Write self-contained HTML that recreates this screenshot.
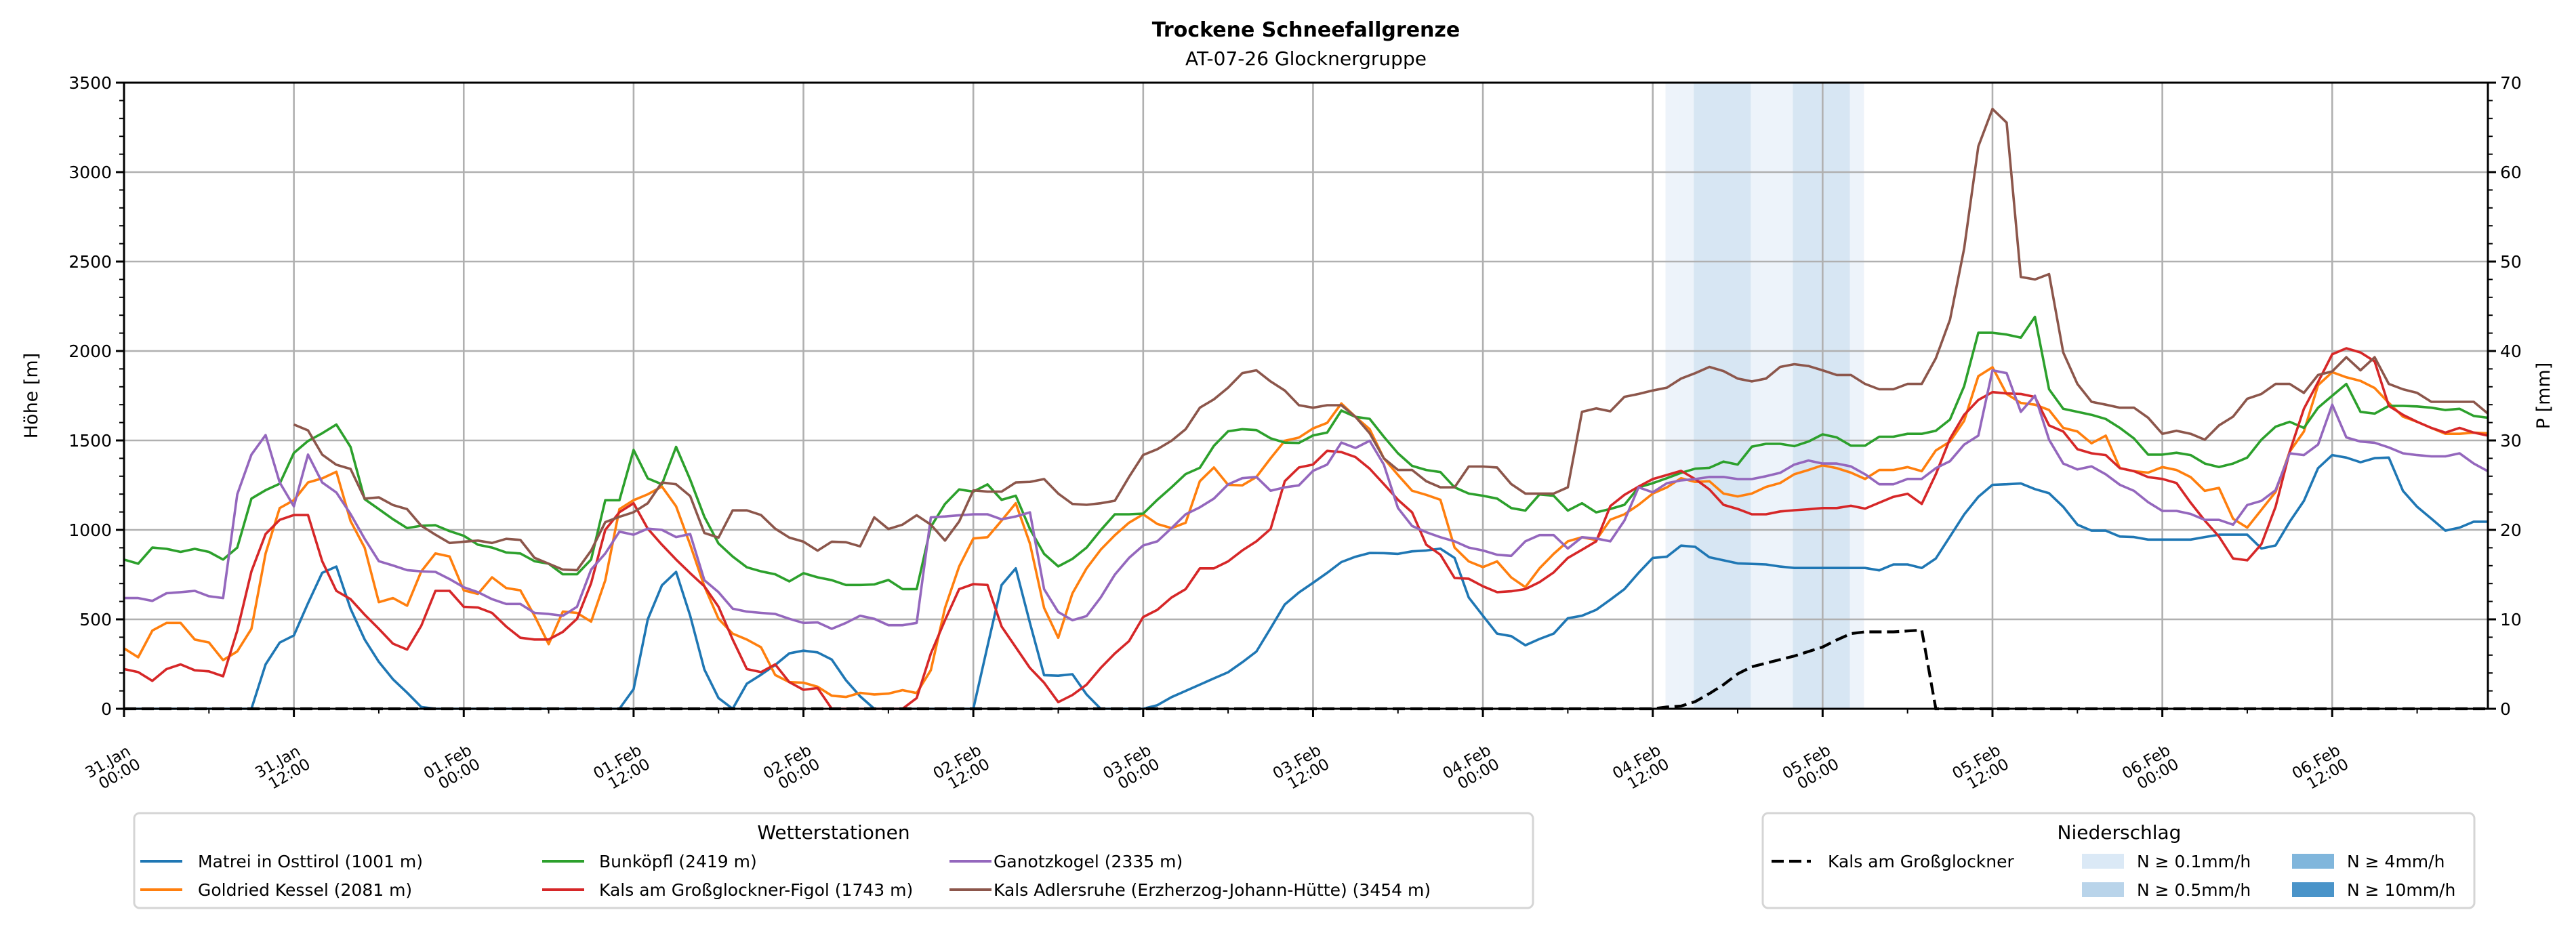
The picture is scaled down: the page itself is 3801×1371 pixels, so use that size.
<!DOCTYPE html>
<html>
<head>
<meta charset="utf-8">
<style>
html,body{margin:0;padding:0;background:#fff;}
svg{display:block;font-family:"DejaVu Sans","Liberation Sans",sans-serif;}
</style>
</head>
<body>
<svg id="chart" width="3801" height="1371" viewBox="0 0 3801 1371" xmlns="http://www.w3.org/2000/svg">
<text x="1927" y="54" text-anchor="middle" font-size="30" font-weight="bold">Trockene Schneefallgrenze</text>
<text x="1927" y="96" text-anchor="middle" font-size="28">AT-07-26 Glocknergruppe</text>
<g id="plot"></g>
</svg>
<script>
const tickLabels = ["31.Jan\n00:00","31.Jan\n12:00","01.Feb\n00:00","01.Feb\n12:00","02.Feb\n00:00","02.Feb\n12:00","03.Feb\n00:00","03.Feb\n12:00","04.Feb\n00:00","04.Feb\n12:00","05.Feb\n00:00","05.Feb\n12:00","06.Feb\n00:00","06.Feb\n12:00"];
const tickHours = [0,12,24,36,48,60,72,84,96,108,120,132,144,156];
const yTicks = [0,500,1000,1500,2000,2500,3000,3500];
const pTicks = [0,10,20,30,40,50,60,70];
const stationNames = ["Matrei in Osttirol (1001 m)","Goldried Kessel (2081 m)","Bunköpfl (2419 m)","Kals am Großglockner-Figol (1743 m)","Ganotzkogel (2335 m)","Kals Adlersruhe (Erzherzog-Johann-Hütte) (3454 m)"];
const matrei = [0,0,0,0,0,0,0,0,0,0,248,370,410,590,760,795,560,387,262,165,90,10,0,0,0,0,0,0,0,0,0,0,0,0,0,0,110,500,690,765,520,220,60,0,140,190,245,310,325,315,275,160,70,0,0,0,0,0,0,0,0,350,692,785,480,188,185,193,80,0,0,0,0,20,65,100,135,170,204,260,320,450,583,650,704,760,820,850,871,870,866,880,885,895,843,622,520,420,406,355,390,420,506,520,553,610,669,760,843,850,912,905,847,830,813,810,807,795,787,787,787,787,787,787,774,807,807,787,840,963,1086,1185,1252,1255,1260,1228,1205,1129,1029,996,996,963,960,946,946,946,946,960,973,973,973,896,913,1046,1162,1345,1418,1404,1378,1401,1404,1218,1129,1063,996,1013,1046,1046];
const goldried = [338,288,437,480,480,387,371,272,321,447,868,1122,1166,1265,1288,1325,1050,900,596,619,576,768,868,851,662,642,735,675,662,520,361,543,536,487,718,1116,1166,1199,1242,1132,917,685,503,420,387,344,189,149,146,123,73,66,89,80,85,104,88,216,564,796,952,959,1052,1149,924,564,397,645,785,889,970,1040,1087,1033,1010,1040,1272,1349,1252,1249,1296,1400,1498,1516,1567,1598,1707,1632,1563,1400,1307,1219,1196,1168,901,824,792,824,734,680,785,866,936,959,943,1057,1087,1140,1203,1238,1289,1268,1272,1203,1187,1203,1240,1262,1311,1335,1361,1345,1320,1285,1335,1335,1351,1328,1444,1494,1610,1859,1909,1760,1710,1700,1670,1570,1550,1484,1527,1345,1328,1320,1351,1335,1295,1218,1235,1062,1013,1112,1212,1438,1550,1809,1882,1853,1833,1793,1710,1633,1604,1570,1537,1537,1544,1540];
const bunkoepfl = [834,811,901,894,877,894,877,834,901,1175,1222,1258,1430,1497,1540,1589,1464,1172,1116,1060,1010,1023,1026,993,967,917,901,874,868,825,811,752,752,834,1166,1166,1447,1288,1255,1464,1281,1073,924,851,791,768,752,712,758,735,719,692,692,695,720,669,669,1017,1145,1226,1214,1254,1168,1191,1005,866,796,838,901,998,1087,1087,1091,1168,1238,1312,1347,1470,1551,1563,1558,1512,1488,1486,1528,1544,1667,1632,1621,1521,1428,1358,1335,1323,1238,1203,1191,1175,1122,1108,1198,1191,1108,1149,1098,1117,1140,1238,1261,1289,1319,1342,1347,1382,1365,1465,1481,1481,1468,1494,1534,1517,1471,1471,1521,1521,1537,1537,1554,1617,1803,2102,2102,2092,2075,2191,1786,1677,1660,1643,1620,1570,1511,1421,1421,1431,1418,1371,1351,1371,1404,1504,1577,1604,1570,1683,1750,1816,1660,1650,1693,1693,1690,1683,1670,1677,1637,1627];
const figol = [222,205,156,222,248,215,209,182,437,768,977,1056,1083,1083,825,659,613,526,447,364,331,464,659,659,570,566,536,460,397,387,387,430,503,702,1000,1099,1149,1007,917,834,758,685,570,387,222,205,248,149,106,116,0,0,0,0,0,0,60,309,495,669,697,692,460,344,228,146,37,77,135,228,309,378,513,553,622,669,785,785,824,885,936,1005,1272,1349,1365,1442,1435,1407,1342,1256,1168,1098,917,861,731,727,685,652,657,669,708,762,843,889,936,1133,1196,1242,1284,1307,1330,1284,1226,1140,1117,1087,1087,1103,1110,1115,1122,1122,1135,1119,1152,1185,1202,1145,1311,1510,1643,1726,1770,1763,1760,1743,1584,1550,1451,1428,1418,1345,1328,1295,1285,1262,1152,1052,963,840,830,920,1129,1438,1677,1826,1982,2015,1992,1942,1693,1643,1604,1570,1544,1570,1544,1527];
const ganotzkogel = [619,619,603,646,652,659,629,619,1199,1421,1530,1265,1132,1421,1265,1209,1089,950,825,801,775,768,765,725,679,652,613,586,586,536,530,520,570,778,868,990,973,1007,1000,960,977,719,652,560,543,536,530,503,480,483,447,480,520,503,467,467,480,1070,1075,1082,1087,1087,1059,1075,1098,669,541,495,518,622,750,843,913,936,1010,1087,1126,1175,1254,1289,1296,1219,1238,1249,1330,1365,1488,1458,1498,1365,1122,1022,987,959,936,901,885,861,855,936,971,971,896,959,952,936,1052,1238,1210,1261,1277,1284,1296,1296,1284,1284,1300,1319,1365,1388,1371,1371,1355,1311,1255,1255,1285,1285,1345,1384,1477,1527,1892,1876,1660,1750,1504,1371,1338,1355,1311,1252,1218,1155,1106,1106,1089,1056,1056,1029,1139,1162,1222,1428,1418,1477,1700,1517,1494,1487,1461,1428,1418,1411,1411,1428,1371,1328];
const adlersruhe = [null,null,null,null,null,null,null,null,null,null,null,null,1589,1556,1421,1364,1341,1175,1182,1139,1116,1023,973,927,934,940,927,950,944,844,811,778,775,884,1043,1073,1099,1149,1265,1255,1189,983,957,1109,1109,1083,1007,957,934,884,934,931,908,1070,1005,1029,1082,1029,940,1047,1221,1214,1214,1265,1268,1284,1203,1145,1140,1149,1163,1296,1419,1451,1498,1563,1683,1730,1795,1876,1892,1830,1779,1697,1683,1697,1697,1632,1540,1400,1335,1335,1272,1238,1238,1354,1354,1349,1256,1203,1203,1203,1238,1660,1679,1663,1744,1760,1779,1795,1846,1876,1911,1888,1846,1830,1846,1911,1926,1916,1892,1866,1866,1816,1786,1786,1816,1816,1959,2175,2573,3144,3353,3277,2414,2400,2430,1992,1816,1716,1700,1683,1683,1627,1537,1554,1537,1504,1584,1633,1733,1760,1816,1816,1766,1866,1886,1965,1892,1965,1816,1786,1766,1716,1716,1716,1716,1650];
const precipKals = [0,0,0,0,0,0,0,0,0,0,0,0,0,0,0,0,0,0,0,0,0,0,0,0,0,0,0,0,0,0,0,0,0,0,0,0,0,0,0,0,0,0,0,0,0,0,0,0,0,0,0,0,0,0,0,0,0,0,0,0,0,0,0,0,0,0,0,0,0,0,0,0,0,0,0,0,0,0,0,0,0,0,0,0,0,0,0,0,0,0,0,0,0,0,0,0,0,0,0,0,0,0,0,0,0,0,0,0,0,0.2,0.3,0.8,1.7,2.7,3.9,4.7,5.1,5.5,5.9,6.4,6.9,7.7,8.4,8.6,8.6,8.6,8.7,8.8,0,0,0,0,0,0,0,0,0,0,0,0,0,0,0,0,0,0,0,0,0,0,0,0,0,0,0,0,0,0,0,0,0,0,0,0,0,0,0,0];
const rainHours = [109,110,111,112,113,114,115,116,117,118,119,120,121,122];
const rainLevels = [1,1,2,2,2,2,1,1,1,2,2,2,2,1];

const NS = "http://www.w3.org/2000/svg";
const L = 183, R = 3671, T = 122, B = 1046, HMAX = 167;
const xS = h => L + h * (R - L) / HMAX;
const yS = v => B - v * (B - T) / 3500;
const pS = v => B - v * (B - T) / 70;
const plot = document.getElementById('plot');
function mk(tag, attrs, parent) {
  const e = document.createElementNS(NS, tag);
  for (const k in attrs) e.setAttribute(k, attrs[k]);
  (parent || plot).appendChild(e);
  return e;
}
const shadeCol = {1: "#edf3fa", 2: "#d7e6f3"};
[1, 2].forEach(lv => {
  rainHours.forEach((h, i) => {
    if (rainLevels[i] >= lv) {
      const r = mk('rect', {x: xS(h - 0.1), y: T, width: xS(h + 0.9) - xS(h - 0.1) + 0.5, height: B - T, fill: shadeCol[lv]});
      
      
    }
  });
});
yTicks.forEach(v => {
  const g = mk('line', {x1: L, x2: R, y1: yS(v), y2: yS(v), stroke: "#b0b0b0", "stroke-width": 2.6});
  
  
});
tickHours.forEach(h => {
  const g = mk('line', {x1: xS(h), x2: xS(h), y1: T, y2: B, stroke: "#b0b0b0", "stroke-width": 2.6});
  
  
});
const series = [matrei, goldried, bunkoepfl, figol, ganotzkogel, adlersruhe];
const colors = ["#1f77b4", "#ff7f0e", "#2ca02c", "#d62728", "#9467bd", "#8c564b"];
const seriesNames = ["line-matrei", "line-goldried-kessel", "line-bunkoepfl", "line-kals-figol", "line-ganotzkogel", "line-kals-adlersruhe"];
series.forEach((s, si) => {
  let d = "", pen = false;
  s.forEach((v, h) => {
    if (v === null) { pen = false; return; }
    d += (pen ? "L" : "M") + xS(h).toFixed(1) + "," + yS(v).toFixed(1);
    pen = true;
  });
  const p = mk('path', {d: d, fill: "none", stroke: colors[si], "stroke-width": 3.6, "stroke-linejoin": "round"});
  
  
});
{
  let d = "";
  precipKals.forEach((v, h) => { d += (h ? "L" : "M") + xS(h).toFixed(1) + "," + pS(v).toFixed(1); });
  const p = mk('path', {d: d, fill: "none", stroke: "#000", "stroke-width": 4.2, "stroke-dasharray": "18,8"});
  
  
}
const sp = mk('rect', {x: L, y: T, width: R - L, height: B - T, fill: "none", stroke: "#000", "stroke-width": 3});


for (let v = 0; v <= 3500; v += 100) {
  const major = v % 500 === 0;
  mk('line', {x1: L, x2: L - (major ? 12 : 7), y1: yS(v), y2: yS(v), stroke: "#000", "stroke-width": major ? 3 : 2});
}
yTicks.forEach(v => {
  const t = mk('text', {x: L - 18, y: yS(v) + 9, "text-anchor": "end", "font-size": 25});
  t.textContent = v;
  
  
});
for (let v = 0; v <= 70; v += 2) {
  const major = v % 10 === 0;
  mk('line', {x1: R, x2: R + (major ? 12 : 7), y1: pS(v), y2: pS(v), stroke: "#000", "stroke-width": major ? 3 : 2});
}
pTicks.forEach(v => {
  const t = mk('text', {x: R + 18, y: pS(v) + 9, "text-anchor": "start", "font-size": 25});
  t.textContent = v;
  
  
});
for (let h = 0; h <= HMAX; h += 6) {
  const major = h % 12 === 0;
  mk('line', {x1: xS(h), x2: xS(h), y1: B, y2: B + (major ? 12 : 7), stroke: "#000", "stroke-width": major ? 3 : 2});
}
tickHours.forEach((h, i) => {
  const parts = tickLabels[i].split("\n");
  const g = mk('g', {transform: "translate(" + (xS(h) - 24).toFixed(1) + ",1124) rotate(-30)"});
  
  
  parts.forEach((p, k) => {
    const t = mk('text', {x: k * 6, y: k * 24 + 8, "text-anchor": "middle", "font-size": 23}, g);
    t.textContent = p;
  });
});
{
  const t = mk('text', {transform: "translate(55,584) rotate(-90)", "text-anchor": "middle", "font-size": 27});
  t.textContent = "Höhe [m]";
  
  
  const t2 = mk('text', {transform: "translate(3762,584) rotate(-90)", "text-anchor": "middle", "font-size": 27});
  t2.textContent = "P [mm]";
  
  
}
{
  const g = mk('g', {});
  
  
  mk('rect', {x: 198, y: 1200, width: 2064, height: 140, rx: 8, fill: "#fff", stroke: "#d5d5d5", "stroke-width": 3}, g);
  const tt = mk('text', {x: 1230, y: 1238, "text-anchor": "middle", "font-size": 28}, g);
  tt.textContent = "Wetterstationen";
  const cols = [[207, 292], [800, 884], [1401, 1466]];
  stationNames.forEach((n, i) => {
    const c = cols[Math.floor(i / 2)], yy = i % 2 === 0 ? 1271 : 1313;
    const e = mk('g', {}, g);
    
    
    mk('line', {x1: c[0], x2: c[0] + 62, y1: yy, y2: yy, stroke: colors[i], "stroke-width": 4}, e);
    const t = mk('text', {x: c[1], y: yy + 9, "font-size": 25}, e);
    t.textContent = n;
  });
}
{
  const g = mk('g', {});
  
  
  mk('rect', {x: 2601, y: 1200, width: 1050, height: 140, rx: 8, fill: "#fff", stroke: "#d5d5d5", "stroke-width": 3}, g);
  const tt = mk('text', {x: 3127, y: 1238, "text-anchor": "middle", "font-size": 28}, g);
  tt.textContent = "Niederschlag";
  const e = mk('g', {}, g);
  
  
  mk('line', {x1: 2614, x2: 2672, y1: 1271, y2: 1271, stroke: "#000", "stroke-width": 4.2, "stroke-dasharray": "18,8"}, e);
  const t = mk('text', {x: 2697, y: 1280, "font-size": 25}, e);
  t.textContent = "Kals am Großglockner";
  const patches = [[3072, 1271, "#dbe9f6", "N ≥ 0.1mm/h"], [3072, 1313, "#b9d4ea", "N ≥ 0.5mm/h"], [3382, 1271, "#80b6dc", "N ≥ 4mm/h"], [3382, 1313, "#4a94c9", "N ≥ 10mm/h"]];
  patches.forEach(p => {
    const pe = mk('g', {}, g);
    
    
    mk('rect', {x: p[0], y: p[1] - 11, width: 62, height: 22, fill: p[2]}, pe);
    const tx = mk('text', {x: p[0] + 81, y: p[1] + 9, "font-size": 25}, pe);
    tx.textContent = p[3];
  });
}
</script>
</body>
</html>
